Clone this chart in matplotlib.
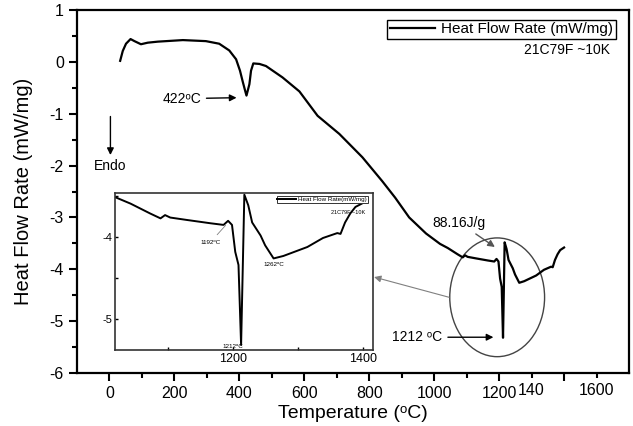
import matplotlib.pyplot as plt
from matplotlib.patches import Ellipse

plt.rcParams['font.family'] = ['Liberation Sans', 'DejaVu Sans']
plt.rcParams['axes.unicode_minus'] = False

# DSC trace, heating at ~10 K/min
temperature = [33, 41, 51, 65, 77, 97, 118, 149, 226, 297, 338, 369, 390, 402,
               410, 418, 422, 431, 436, 443, 462, 482, 533, 585, 641, 708, 779,
               840, 880, 923, 975, 1018, 1042, 1072, 1088, 1095, 1103, 1129,
               1165, 1185, 1192, 1198, 1203, 1208, 1212, 1217, 1223, 1229, 1242,
               1249, 1262, 1277, 1314, 1338, 1360, 1365, 1372, 1380, 1388, 1400]
heat_flow = [0.02, 0.21, 0.35, 0.44, 0.40, 0.34, 0.37, 0.39, 0.42, 0.40, 0.35,
             0.22, 0.05, -0.17, -0.37, -0.56, -0.65, -0.43, -0.17, -0.03, -0.04,
             -0.08, -0.30, -0.57, -1.04, -1.39, -1.84, -2.30, -2.62, -3.00,
             -3.31, -3.51, -3.59, -3.71, -3.77, -3.73, -3.76, -3.79, -3.83,
             -3.85, -3.80, -3.85, -4.18, -4.34, -5.32, -3.48, -3.61, -3.82,
             -3.98, -4.10, -4.26, -4.23, -4.12, -4.01, -3.95, -3.96, -3.82,
             -3.71, -3.63, -3.58]

x_major = [0, 200, 400, 600, 800, 1000, 1200, 1400]
x_major_labels = ['0', '200', '400', '600', '800', '1000', '1200', '']
x_minor = [100, 300, 500, 700, 900, 1100, 1300, 1500]
x_minor_labels = ['', '', '', '', '', '', '140', '1600']

fig = plt.figure(figsize=(6.33, 4.26), dpi=100)
ax = fig.add_axes([0.1216, 0.1244, 0.8721, 0.8521])
ax.plot(temperature, heat_flow, color='black', lw=1.6, label='Heat Flow Rate (mW/mg)')

ax.set_xlim(-100, 1600)
ax.set_ylim(-6, 1)
ax.set_xticks(x_major, x_major_labels)
ax.set_xticks(x_minor, x_minor_labels, minor=True)
ax.set_yticks(range(-6, 2))
ax.set_yticks([v + 0.5 for v in range(-6, 1)], minor=True)
ax.tick_params(which='both', direction='out', width=1.5, labelsize=11.5)
ax.tick_params(which='major', length=6)
ax.tick_params(which='minor', length=3.5)
for s in ax.spines.values():
    s.set_linewidth(1.6)

ax.set_xlabel('Temperature (ᵒC)', fontsize=14, labelpad=3)
ax.set_ylabel('Heat Flow Rate (mW/mg)', fontsize=14.5)
ax.yaxis.set_label_coords(-0.08, 0.5)

leg = ax.legend(loc='upper right', bbox_to_anchor=(0.976, 0.9725), fontsize=11,
                fancybox=False, edgecolor='black', framealpha=1, borderpad=0.15,
                handlelength=3, handletextpad=0.4, borderaxespad=0)
leg.get_frame().set_linewidth(1.0)
ax.text(0.966, 0.89, '21C79F ~10K', transform=ax.transAxes, ha='right',
        va='center', fontsize=10)

# annotations on the main trace
ax.annotate('422ᵒC', xy=(400, -0.69), xytext=(222, -0.71), ha='center',
            va='center', fontsize=10,
            arrowprops=dict(arrowstyle='-|>', color='black', lw=1))
ax.annotate('', xy=(3, -1.85), xytext=(3, -1.0),
            arrowprops=dict(arrowstyle='-|>', color='black', lw=1))
ax.text(3, -2.0, 'Endo', ha='center', va='center', fontsize=10)
ax.annotate('88.16J/g', xy=(1194, -3.6), xytext=(1077, -3.10), ha='center',
            va='center', fontsize=10,
            arrowprops=dict(arrowstyle='-|>', color='#555555', lw=1))
ax.annotate('1212 ᵒC', xy=(1191, -5.31), xytext=(948, -5.31), ha='center',
            va='center', fontsize=10,
            arrowprops=dict(arrowstyle='-|>', color='black', lw=1))

ax.add_patch(Ellipse((1194, -4.54), 292, 2.29, fill=False, edgecolor='#444444', lw=1))
ax.annotate('', xy=(815, -4.15), xytext=(1046, -4.54),
            arrowprops=dict(arrowstyle='-|>', color='gray', lw=0.8,
                            shrinkA=0, shrinkB=0))

# zoomed view of the high temperature region
ins = fig.add_axes([0.1817, 0.1784, 0.4076, 0.3685])
ins.plot(temperature, heat_flow, color='black', lw=1.4,
         label='Heat Flow Rate(mW/mg)')
ins.set_xlim(1018, 1415)
ins.set_ylim(-5.38, -3.46)
ins.set_xticks([1200, 1400])
ins.set_xticks([1100, 1300], minor=True)
ins.set_yticks([-4, -5])
ins.set_yticks([-3.5, -4.5], minor=True)
ins.tick_params(which='both', direction='in', width=1, length=2.5, pad=2)
ins.tick_params(axis='x', labelsize=9)
ins.tick_params(axis='y', labelsize=8)
for s in ins.spines.values():
    s.set_linewidth(1.2)
    s.set_color('#333333')

ileg = ins.legend(loc='upper right', bbox_to_anchor=(0.98, 0.98), fontsize=4.5,
                  fancybox=False, edgecolor='#333333', framealpha=1, borderpad=0.1,
                  handlelength=3, handletextpad=0.4, borderaxespad=0)
ileg.get_frame().set_linewidth(0.7)
ins.text(0.97, 0.875, '21C79F ~10K', transform=ins.transAxes, ha='right',
         va='center', fontsize=4)
ins.annotate('1192ᵒC', xy=(1191, -3.83), xytext=(1165, -4.06), ha='center',
             va='center', fontsize=4.5,
             arrowprops=dict(arrowstyle='-', color='gray', lw=0.6))
ins.text(1262, -4.33, '1262ᵒC', ha='center', va='center', fontsize=4.5)
ins.text(1200, -5.34, '1212ᵒC', ha='center', va='center', fontsize=4.5)

fig.savefig('out.png', dpi=100)
